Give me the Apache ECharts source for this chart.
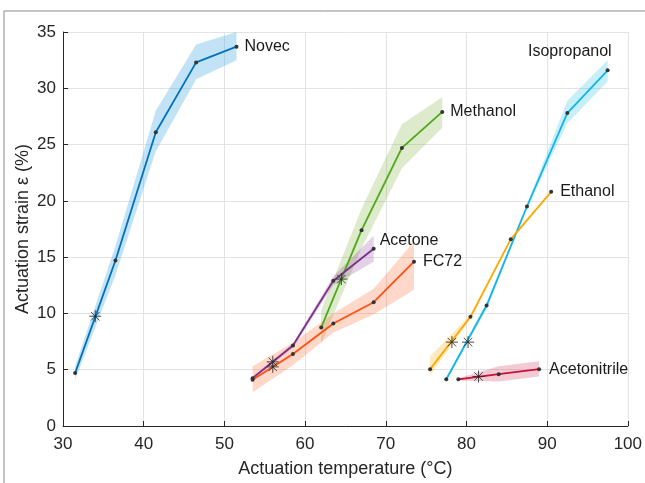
<!DOCTYPE html>
<html>
<head>
<meta charset="utf-8">
<script src="https://cdn.jsdelivr.net/npm/echarts@6/dist/echarts.min.js"></script>
<style>
html,body{margin:0;padding:0;background:#fff;}
#chart{width:645px;height:483px;}
</style>
</head>
<body>
<div id="chart"></div>
<script>
// axis ticks
var xTicks=[30,40,50,60,70,80,90,100];
var yTicks=[0,5,10,15,20,25,30,35];

// Novec
var novecT=[31.5,36.5,41.5,46.5,51.5];
var novecS=[4.7,14.7,26.1,32.3,33.7];
var novecLo=[4.1,13.4,24.4,30.8,32.5];
var novecHi=[5.3,16.0,28.0,33.9,35.0];
// Methanol
var methT=[62,67,72,77];
var methS=[8.75,17.4,24.7,27.9];
var methLo=[7.3,15.8,22.9,26.5];
var methHi=[10.3,19.3,26.8,29.2];
// Acetone
var acetT=[53.5,58.5,63.5,68.5];
var acetS=[4.25,7.15,12.9,15.75];
var acetLo=[4.1,6.95,12.5,14.6];
var acetHi=[4.4,7.35,13.3,16.9];
// FC72
var fcT=[53.5,58.5,63.5,68.5,73.5];
var fcS=[4.1,6.4,9.1,11.0,14.6];
var fcLo=[3.0,5.4,8.3,9.9,12.1];
var fcHi=[5.3,7.4,10.0,12.2,16.4];
// Isopropanol
var isoT=[77.5,82.5,87.5,92.5,97.5];
var isoS=[4.15,10.7,19.5,27.8,31.6];
var isoLo=[4.0,10.4,19.3,26.9,30.6];
var isoHi=[4.3,11.0,19.7,28.9,32.5];
// Ethanol
var ethT=[75.5,80.5,85.5,90.5];
var ethS=[5.05,9.7,16.6,20.8];
var ethLo=[4.5,9.5,16.5,20.7];
var ethHi=[6.2,9.9,16.7,20.9];
// Acetonitrile
var acnT=[79,84,89];
var acnS=[4.15,4.6,5.05];
var acnLo=[4.05,3.95,4.4];
var acnHi=[4.25,5.3,5.75];
// star marks
var starT=[34,56,56,64.5,78.2,80.2,81.5];
var starS=[9.75,5.7,5.25,13.05,7.45,7.45,4.4];

var font='Liberation Sans';

//误差带
function bandSeries(name,xs,lo,hi,fill){
    return {
        type:'custom',
        name:name+' band',
        silent:true,
        z:1,
        encode:{x:0,y:[1,2]},
        data:xs.map(function(x,i){return [x,lo[i],hi[i]];}),
        renderItem:function(params,api){
            if(params.dataIndex!==0) return;
            var pts=[];
            for(var i=0;i<xs.length;i++) pts.push(api.coord([xs[i],hi[i]]));
            for(var j=xs.length-1;j>=0;j--) pts.push(api.coord([xs[j],lo[j]]));
            return {type:'polygon',shape:{points:pts},style:{fill:fill}};
        }
    };
}

//折线
function lineSeries(name,xs,ys,color,lab){
    var d=xs.map(function(x,i){return [x,ys[i]];});
    var last=d.length-1;
    var label={show:true,formatter:name,color:'#1a1a1a',fontSize:16,fontFamily:font,position:'right',distance:6};
    for(var k in lab) label[k]=lab[k];
    d[last]={value:d[last],label:label};
    return {
        type:'line',
        name:name,
        data:d,
        symbol:'circle',
        symbolSize:4,
        showSymbol:true,
        z:3,
        silent:true,
        emphasis:{disabled:true},
        itemStyle:{color:'#333'},
        lineStyle:{color:color,width:1.8}
    };
}

function loadChart(){
    var mychart=echarts.init(document.getElementById('chart'));
    var option={
        backgroundColor:'#fff',
        animation:false,
        grid:{left:63,right:15,top:32,bottom:54},
        graphic:[
            {type:'line',shape:{x1:4,y1:11,x2:645,y2:11},style:{stroke:'#8a8a8a',lineWidth:1}},
            {type:'line',shape:{x1:4,y1:11,x2:4,y2:483},style:{stroke:'#8a8a8a',lineWidth:1}}
        ],
        xAxis:{
            type:'value',min:xTicks[0],max:xTicks[xTicks.length-1],interval:10,
            name:'Actuation temperature (°C)',nameLocation:'middle',nameGap:34,nameMoveOverlap:false,
            nameTextStyle:{fontSize:18,color:'#262626',fontFamily:font},
            axisLine:{lineStyle:{color:'#262626',width:1}},
            axisTick:{inside:true,length:5,lineStyle:{color:'#262626'}},
            axisLabel:{fontSize:17,color:'#262626',fontFamily:font,margin:10},
            splitLine:{show:true,lineStyle:{color:'#e3e3e3'}}
        },
        yAxis:{
            type:'value',min:yTicks[0],max:yTicks[yTicks.length-1],interval:5,
            name:'Actuation strain ε (%)',nameLocation:'middle',nameGap:31,nameMoveOverlap:false,
            nameTextStyle:{fontSize:18,color:'#262626',fontFamily:font},
            axisLine:{show:true,lineStyle:{color:'#262626',width:1}},
            axisTick:{show:true,inside:true,length:5,lineStyle:{color:'#262626'}},
            axisLabel:{fontSize:17,color:'#262626',fontFamily:font,margin:7},
            splitLine:{show:true,lineStyle:{color:'#e3e3e3'}}
        },
        series:[
            bandSeries('Novec',novecT,novecLo,novecHi,'rgba(80,175,225,0.35)'),
            bandSeries('Methanol',methT,methLo,methHi,'rgba(119,172,48,0.25)'),
            bandSeries('Acetone',acetT,acetLo,acetHi,'rgba(126,47,142,0.22)'),
            bandSeries('FC72',fcT,fcLo,fcHi,'rgba(255,90,30,0.24)'),
            bandSeries('Isopropanol',isoT,isoLo,isoHi,'rgba(0,180,230,0.22)'),
            bandSeries('Ethanol',ethT,ethLo,ethHi,'rgba(255,170,0,0.25)'),
            bandSeries('Acetonitrile',acnT,acnLo,acnHi,'rgba(200,16,58,0.22)'),
            lineSeries('Novec',novecT,novecS,'#0072BD',{}),
            lineSeries('Methanol',methT,methS,'#4DA81A',{}),
            lineSeries('Acetone',acetT,acetS,'#7E2F8E',{position:[8,-6],align:'left',verticalAlign:'middle'}),
            lineSeries('FC72',fcT,fcS,'#FF5014',{distance:7}),
            lineSeries('Isopropanol',isoT,isoS,'#12B5E8',{position:[6,-17],align:'right',verticalAlign:'middle'}),
            lineSeries('Ethanol',ethT,ethS,'#FFA800',{distance:7}),
            lineSeries('Acetonitrile',acnT,acnS,'#C8103A',{distance:8}),
            {
                //星号标记
                type:'custom',
                name:'stars',
                silent:true,
                z:4,
                data:starT.map(function(x,i){return [x,starS[i]];}),
                renderItem:function(params,api){
                    var p=api.coord([api.value(0),api.value(1)]);
                    var r=6,ch=[];
                    for(var k=0;k<4;k++){
                        var a=k*Math.PI/4;
                        ch.push({type:'line',shape:{x1:p[0]-r*Math.cos(a),y1:p[1]-r*Math.sin(a),x2:p[0]+r*Math.cos(a),y2:p[1]+r*Math.sin(a)},
                            style:{stroke:'rgba(45,45,45,0.85)',lineWidth:1}});
                    }
                    return {type:'group',children:ch};
                }
            }
        ]
    };
    mychart.setOption(option);
}
loadChart();
</script>
</body>
</html>
